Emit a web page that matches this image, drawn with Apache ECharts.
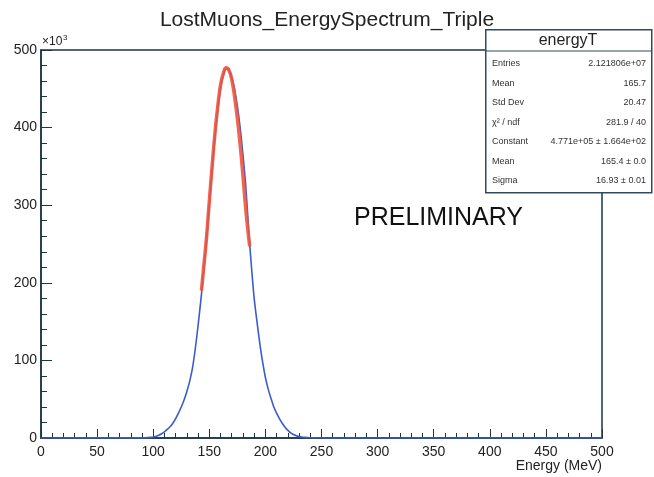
<!DOCTYPE html>
<html>
<head>
<meta charset="utf-8">
<script src="https://cdn.jsdelivr.net/npm/echarts@6/dist/echarts.min.js"></script>
<style>
html, body { margin: 0; padding: 0; background: #fff; }
#chart { width: 654px; height: 477px; }
</style>
</head>
<body>
<div id="chart"></div>
<script>
// histogram bin centres (MeV) and counts (x10^3)
var binCenters = [0, 90, 92.5, 95, 97.5, 100, 102.5, 105, 107.5, 110, 112.5, 115, 117.5, 120, 122.5, 125, 127.5,
	130, 132.5, 135, 137.5, 140, 142.5, 145, 147.5, 150, 152.5, 155, 157.5, 160, 162.5, 165, 167.5,
	170, 172.5, 175, 177.5, 180, 182.5, 185, 187.5, 190, 192.5, 195, 197.5, 200, 202.5, 205, 207.5,
	210, 212.5, 215, 217.5, 220, 222.5, 225, 227.5, 230, 232.5, 235, 237.5, 240, 242.5, 245, 247.5, 250, 500];
var countsK = [0, 0.2, 0.3, 0.5, 0.8, 1.3, 2.2, 3.5, 5.5, 8, 11, 14.5, 19, 25, 32, 40, 49,
	60, 73, 90, 115, 145, 178, 215, 255, 300, 345, 388, 422, 450, 467, 476, 474,
	465, 450, 428, 400, 365, 325, 270, 222, 180, 150, 122, 98, 78, 63, 51, 40,
	32, 25, 19, 14, 10, 6.5, 4.5, 3, 2, 1.3, 0.8, 0.5, 0.3, 0.2, 0.1, 0.05, 0, 0];

// gaussian fit curve (red)
var fitE = [143, 145, 147.5, 150, 152.5, 155, 157.5, 160, 162.5, 165, 167.5, 170, 172.5, 175, 177.5, 180, 182.5, 185, 186];
var fitK = [190, 220, 258, 305, 350, 392, 427, 455, 470, 477, 474, 462, 440, 412, 378, 338, 295, 260, 247];

var xTicks = [0, 50, 100, 150, 200, 250, 300, 350, 400, 450, 500];
var yTicks = [0, 100, 200, 300, 400, 500];

var statsTitle = 'energyT';
var statsLabels = ['Entries', 'Mean', 'Std Dev', 'χ² / ndf', 'Constant', 'Mean', 'Sigma'];
var statsValues = ['2.121806e+07', '165.7', '20.47', '281.9 / 40', '4.771e+05 ± 1.664e+02', '165.4 ± 0.0', '16.93 ± 0.01'];

var frameColor = '#1e3444';
var textColor = '#222';
var font = 'Liberation Sans, Arial, sans-serif';

var histData = [], fitData = [];
for (var i = 0; i < binCenters.length; i++) histData.push([binCenters[i], countsK[i]]);
for (var i = 0; i < fitE.length; i++) fitData.push([fitE[i], fitK[i]]);

// stats box
var boxX = 485, boxY = 29, boxW = 166, boxH = 163;
var graphics = [
	{ type: 'rect', left: boxX, top: boxY, z: 100,
		shape: { width: boxW, height: boxH },
		style: { fill: '#fff', stroke: '#2e4a5c', lineWidth: 1.5 } },
	{ type: 'line', z: 101,
		shape: { x1: boxX, y1: 51, x2: boxX + boxW, y2: 51 },
		style: { stroke: '#2e4a5c', lineWidth: 1.2 } },
	{ type: 'text', z: 101, x: boxX + boxW / 2, y: 41,
		style: { text: statsTitle, font: '16px ' + font, fill: textColor, align: 'center', verticalAlign: 'middle' } },
	{ type: 'text', left: 354, top: 206, z: 50,
		style: { text: 'PRELIMINARY', font: '25px ' + font, fill: '#111' } },
	{ type: 'text', left: 42, top: 36,
		style: { text: '×10', font: '12px ' + font, fill: textColor } },
	{ type: 'text', left: 63, top: 34,
		style: { text: '3', font: '8px ' + font, fill: textColor } },
	{ type: 'text', right: 52, top: 459,
		style: { text: 'Energy (MeV)', font: '14px ' + font, fill: textColor } }
];
for (var i = 0; i < statsLabels.length; i++) {
	var ry = 64 + i * 19.5;
	graphics.push({ type: 'text', z: 101, x: boxX + 7, y: ry,
		style: { text: statsLabels[i], font: '9px ' + font, fill: '#333', verticalAlign: 'middle' } });
	graphics.push({ type: 'text', z: 101, x: boxX + boxW - 5, y: ry,
		style: { text: statsValues[i], font: '9px ' + font, fill: '#333', align: 'right', verticalAlign: 'middle' } });
}

var chart = echarts.init(document.getElementById('chart'), null, { renderer: 'canvas' });
var option = {
	backgroundColor: '#fff',
	animation: false,
	title: {
		text: 'LostMuons_EnergySpectrum_Triple',
		left: 'center',
		top: 5,
		textStyle: { fontFamily: font, fontSize: 21, fontWeight: 'normal', color: textColor }
	},
	grid: {
		left: 41, right: 52, top: 50, bottom: 39,
		show: true, borderColor: frameColor, borderWidth: 1.5, backgroundColor: '#fff'
	},
	xAxis: {
		type: 'value', min: xTicks[0], max: xTicks[xTicks.length - 1], interval: 50,
		axisLine: { show: true, onZero: false, lineStyle: { color: frameColor, width: 1.5 } },
		axisTick: { show: true, inside: true, length: 9, lineStyle: { color: frameColor } },
		minorTick: { show: true, splitNumber: 5, length: 5, lineStyle: { color: frameColor } },
		splitLine: { show: false },
		axisLabel: { color: textColor, fontFamily: font, fontSize: 14, margin: 7 }
	},
	yAxis: {
		type: 'value', min: yTicks[0], max: yTicks[yTicks.length - 1], interval: 100,
		axisLine: { show: true, lineStyle: { color: frameColor, width: 1.5 } },
		axisTick: { show: true, inside: true, length: 11, lineStyle: { color: frameColor } },
		minorTick: { show: true, splitNumber: 5, length: 6, lineStyle: { color: frameColor } },
		splitLine: { show: false },
		axisLabel: { color: textColor, fontFamily: font, fontSize: 14, margin: 4 }
	},
	series: [
		{
			name: 'energyT', type: 'line', smooth: 0.3, data: histData,
			showSymbol: false, symbol: 'none',
			lineStyle: { color: '#3b5bd0', width: 1.6 }, z: 3
		},
		{
			name: 'fit', type: 'line', smooth: true, data: fitData,
			showSymbol: false, symbol: 'none',
			lineStyle: { color: '#f0533c', width: 3.5, opacity: 0.9 }, z: 4
		}
	],
	graphic: graphics
};
chart.setOption(option);
</script>
</body>
</html>
